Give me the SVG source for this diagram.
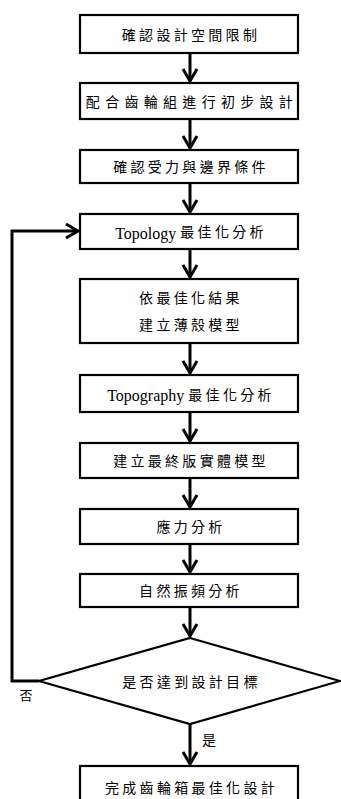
<svg xmlns="http://www.w3.org/2000/svg" width="341" height="799" viewBox="0 0 341 799">
<style>
.box{fill:#fff;stroke:#000;stroke-width:2.2}
.t{font-family:"Liberation Serif","Noto Sans CJK TC",serif;font-size:14px;letter-spacing:3.3px;text-anchor:middle;dominant-baseline:central;fill:#000}
.lat{font-family:"Liberation Serif",serif;font-size:16px;letter-spacing:0}
.c{fill:none;stroke:#000;stroke-width:3}
</style>
<defs>
<marker id="ah" markerUnits="userSpaceOnUse" viewBox="-14 -9 16 18" markerWidth="16" markerHeight="18" refX="0" refY="0" orient="auto">
<path d="M-12,-7 L0,0 L-12,7" fill="none" stroke="#000" stroke-width="3"/>
</marker>
</defs>
<g id="connectors">
<line class="c" x1="190" y1="53" x2="190" y2="81" marker-end="url(#ah)"/>
<line class="c" x1="190" y1="119" x2="190" y2="148" marker-end="url(#ah)"/>
<line class="c" x1="190" y1="183" x2="190" y2="212" marker-end="url(#ah)"/>
<line class="c" x1="190" y1="249" x2="190" y2="277" marker-end="url(#ah)"/>
<line class="c" x1="190" y1="343" x2="190" y2="373" marker-end="url(#ah)"/>
<line class="c" x1="190" y1="412" x2="190" y2="441" marker-end="url(#ah)"/>
<line class="c" x1="190" y1="478" x2="190" y2="507" marker-end="url(#ah)"/>
<line class="c" x1="190" y1="544" x2="190" y2="572" marker-end="url(#ah)"/>
<line class="c" x1="190" y1="607" x2="190" y2="636" marker-end="url(#ah)"/>
<line class="c" x1="190" y1="724" x2="190" y2="764" marker-end="url(#ah)"/>
<polyline class="c" points="39,681 12,681 12,231 78,231" marker-end="url(#ah)"/>
<text class="t" x="26" y="695" style="font-size:13px;letter-spacing:0">否</text>
<text class="t" x="209" y="740" style="letter-spacing:0">是</text>
</g>
<g id="n1"><rect class="box" x="80" y="15" width="218" height="38"/><text class="t" x="191" y="35">確認設計空間限制</text></g>
<g id="n2"><rect class="box" x="80" y="83" width="218" height="36"/><text class="t" x="192" y="102" style="letter-spacing:5.3px">配合齒輪組進行初步設計</text></g>
<g id="n3"><rect class="box" x="80" y="150" width="218" height="33"/><text class="t" x="191" y="167.5">確認受力與邊界條件</text></g>
<g id="n4"><rect class="box" x="80" y="214" width="218" height="35"/><text class="t" x="191" y="232.5"><tspan class="lat">Topology </tspan>最佳化分析</text></g>
<g id="n5"><rect class="box" x="80" y="279" width="218" height="64"/><text class="t" x="191" y="298.5">依最佳化結果</text><text class="t" x="191" y="325.5">建立薄殼模型</text></g>
<g id="n6"><rect class="box" x="80" y="375" width="218" height="37"/><text class="t" x="191" y="395"><tspan class="lat">Topography </tspan>最佳化分析</text></g>
<g id="n7"><rect class="box" x="80" y="443" width="218" height="35"/><text class="t" x="191" y="461.5">建立最終版實體模型</text></g>
<g id="n8"><rect class="box" x="80" y="509" width="218" height="35"/><text class="t" x="191" y="527.5">應力分析</text></g>
<g id="n9"><rect class="box" x="80" y="574" width="218" height="33"/><text class="t" x="191" y="591.5">自然振頻分析</text></g>
<g id="n10"><polygon class="box" points="190,638 340,681 190,724 39,681"/><text class="t" x="191.5" y="682">是否達到設計目標</text></g>
<g id="n11"><rect class="box" x="80" y="766" width="218" height="44"/><text class="t" x="191.5" y="788">完成齒輪箱最佳化設計</text></g>
</svg>
